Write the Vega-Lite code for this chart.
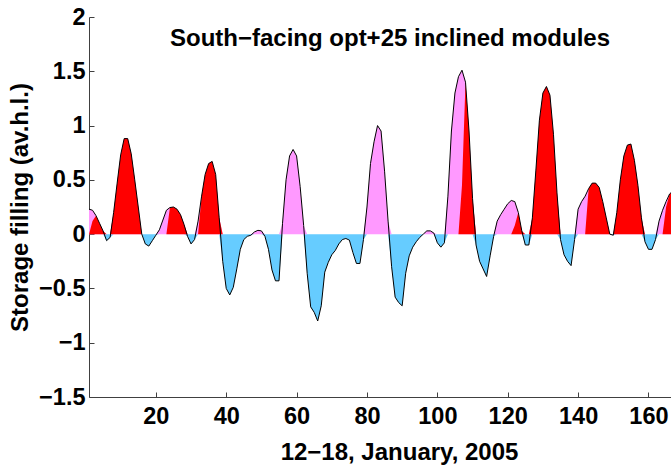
{
  "$schema": "https://vega.github.io/schema/vega-lite/v6.json",
  "width": 582,
  "height": 380,
  "autosize": {"type": "none"},
  "padding": {"left": 89, "top": 17, "right": 0, "bottom": 69},
  "config": {
    "view": {"stroke": null},
    "font": "Liberation Sans",
    "axis": {
      "grid": false,
      "domainColor": "#404040",
      "domainWidth": 1,
      "tickColor": "#404040",
      "tickSize": -5,
      "labelFont": "Liberation Sans",
      "labelFontSize": 23.5,
      "labelFontWeight": "bold",
      "labelColor": "black",
      "titleFont": "Liberation Sans",
      "titleFontSize": 24,
      "titleFontWeight": "bold",
      "titleColor": "black"
    }
  },
  "title": {
    "text": "South−facing opt+25 inclined modules",
    "font": "Liberation Sans",
    "fontSize": 24,
    "fontWeight": "bold",
    "color": "black",
    "anchor": "middle",
    "baseline": "alphabetic",
    "offset": -30,
    "dy": 35,
    "dx": 10
  },
  "data": {
    "values": [
      {"h": 1, "v": 0.23, "r": 0}, {"h": 2, "v": 0.22, "r": 0.12}, {"h": 3, "v": 0.17, "r": 0.17},
      {"h": 4, "v": 0.10, "r": 0.10}, {"h": 5, "v": 0.03, "r": 0.03}, {"h": 6, "v": -0.06, "r": 0},
      {"h": 7, "v": -0.03, "r": 0}, {"h": 8, "v": 0.2, "r": 0.2}, {"h": 9, "v": 0.47, "r": 0.47},
      {"h": 10, "v": 0.73, "r": 0.73}, {"h": 11, "v": 0.88, "r": 0.88}, {"h": 12, "v": 0.88, "r": 0.88},
      {"h": 13, "v": 0.74, "r": 0.74}, {"h": 14, "v": 0.5, "r": 0.5}, {"h": 15, "v": 0.25, "r": 0.25},
      {"h": 16, "v": 0.0, "r": 0}, {"h": 17, "v": -0.09, "r": 0}, {"h": 18, "v": -0.11, "r": 0},
      {"h": 19, "v": -0.06, "r": 0}, {"h": 20, "v": -0.01, "r": 0}, {"h": 21, "v": 0.04, "r": 0},
      {"h": 22, "v": 0.13, "r": 0}, {"h": 23, "v": 0.22, "r": 0}, {"h": 24, "v": 0.245, "r": 0.245},
      {"h": 25, "v": 0.25, "r": 0.25}, {"h": 26, "v": 0.23, "r": 0.23}, {"h": 27, "v": 0.18, "r": 0.18},
      {"h": 28, "v": 0.09, "r": 0.09}, {"h": 29, "v": -0.02, "r": 0}, {"h": 30, "v": -0.09, "r": 0},
      {"h": 31, "v": -0.05, "r": 0}, {"h": 32, "v": 0.12, "r": 0}, {"h": 33, "v": 0.35, "r": 0.35},
      {"h": 34, "v": 0.55, "r": 0.55}, {"h": 35, "v": 0.65, "r": 0.65}, {"h": 36, "v": 0.67, "r": 0.67},
      {"h": 37, "v": 0.55, "r": 0.55}, {"h": 38, "v": 0.15, "r": 0.15}, {"h": 39, "v": -0.25, "r": 0},
      {"h": 40, "v": -0.5, "r": 0}, {"h": 41, "v": -0.56, "r": 0}, {"h": 42, "v": -0.49, "r": 0},
      {"h": 43, "v": -0.32, "r": 0}, {"h": 44, "v": -0.14, "r": 0}, {"h": 45, "v": -0.05, "r": 0},
      {"h": 46, "v": -0.02, "r": 0}, {"h": 47, "v": -0.01, "r": 0}, {"h": 48, "v": 0.02, "r": 0},
      {"h": 49, "v": 0.035, "r": 0}, {"h": 50, "v": 0.03, "r": 0}, {"h": 51, "v": -0.02, "r": 0},
      {"h": 52, "v": -0.14, "r": 0}, {"h": 53, "v": -0.33, "r": 0}, {"h": 54, "v": -0.43, "r": 0},
      {"h": 55, "v": -0.43, "r": 0}, {"h": 56, "v": 0.1, "r": 0}, {"h": 57, "v": 0.5, "r": 0},
      {"h": 58, "v": 0.72, "r": 0}, {"h": 59, "v": 0.78, "r": 0}, {"h": 60, "v": 0.72, "r": 0},
      {"h": 61, "v": 0.44, "r": 0}, {"h": 62, "v": 0.08, "r": 0}, {"h": 63, "v": -0.36, "r": 0},
      {"h": 64, "v": -0.67, "r": 0}, {"h": 65, "v": -0.72, "r": 0}, {"h": 66, "v": -0.8, "r": 0},
      {"h": 67, "v": -0.66, "r": 0}, {"h": 68, "v": -0.35, "r": 0}, {"h": 69, "v": -0.26, "r": 0},
      {"h": 70, "v": -0.19, "r": 0}, {"h": 71, "v": -0.15, "r": 0}, {"h": 72, "v": -0.09, "r": 0},
      {"h": 73, "v": -0.05, "r": 0}, {"h": 74, "v": -0.04, "r": 0}, {"h": 75, "v": -0.055, "r": 0},
      {"h": 76, "v": -0.17, "r": 0}, {"h": 77, "v": -0.27, "r": 0}, {"h": 78, "v": -0.27, "r": 0},
      {"h": 79, "v": -0.05, "r": 0}, {"h": 80, "v": 0.25, "r": 0}, {"h": 81, "v": 0.65, "r": 0},
      {"h": 82, "v": 0.85, "r": 0}, {"h": 83, "v": 1.0, "r": 0}, {"h": 84, "v": 0.95, "r": 0},
      {"h": 85, "v": 0.58, "r": 0}, {"h": 86, "v": 0.12, "r": 0}, {"h": 87, "v": -0.3, "r": 0},
      {"h": 88, "v": -0.58, "r": 0}, {"h": 89, "v": -0.63, "r": 0}, {"h": 90, "v": -0.66, "r": 0},
      {"h": 91, "v": -0.36, "r": 0}, {"h": 92, "v": -0.2, "r": 0}, {"h": 93, "v": -0.12, "r": 0},
      {"h": 94, "v": -0.07, "r": 0}, {"h": 95, "v": -0.03, "r": 0}, {"h": 96, "v": 0.0, "r": 0},
      {"h": 97, "v": 0.03, "r": 0}, {"h": 98, "v": 0.03, "r": 0}, {"h": 99, "v": 0.01, "r": 0},
      {"h": 100, "v": -0.08, "r": 0}, {"h": 101, "v": -0.12, "r": 0}, {"h": 102, "v": -0.08, "r": 0},
      {"h": 103, "v": 0.35, "r": 0}, {"h": 104, "v": 0.95, "r": 0}, {"h": 105, "v": 1.3, "r": 0},
      {"h": 106, "v": 1.45, "r": 0}, {"h": 107, "v": 1.51, "r": 0.45}, {"h": 108, "v": 1.4, "r": 1.4},
      {"h": 109, "v": 0.95, "r": 0.95}, {"h": 110, "v": 0.33, "r": 0.33}, {"h": 111, "v": -0.1, "r": 0},
      {"h": 112, "v": -0.25, "r": 0}, {"h": 113, "v": -0.32, "r": 0}, {"h": 114, "v": -0.39, "r": 0},
      {"h": 115, "v": -0.2, "r": 0}, {"h": 116, "v": -0.02, "r": 0}, {"h": 117, "v": 0.12, "r": 0},
      {"h": 118, "v": 0.18, "r": 0}, {"h": 119, "v": 0.23, "r": 0}, {"h": 120, "v": 0.28, "r": 0},
      {"h": 121, "v": 0.31, "r": 0}, {"h": 122, "v": 0.3, "r": 0.08}, {"h": 123, "v": 0.2, "r": 0.2},
      {"h": 124, "v": 0.03, "r": 0.03}, {"h": 125, "v": -0.1, "r": 0}, {"h": 126, "v": -0.1, "r": 0},
      {"h": 127, "v": 0.15, "r": 0.15}, {"h": 128, "v": 0.59, "r": 0.59}, {"h": 129, "v": 1.05, "r": 1.05},
      {"h": 130, "v": 1.3, "r": 1.3}, {"h": 131, "v": 1.36, "r": 1.36}, {"h": 132, "v": 1.28, "r": 1.28},
      {"h": 133, "v": 0.92, "r": 0.92}, {"h": 134, "v": 0.38, "r": 0.38}, {"h": 135, "v": -0.05, "r": 0},
      {"h": 136, "v": -0.19, "r": 0}, {"h": 137, "v": -0.25, "r": 0}, {"h": 138, "v": -0.29, "r": 0},
      {"h": 139, "v": -0.05, "r": 0}, {"h": 140, "v": 0.23, "r": 0}, {"h": 141, "v": 0.3, "r": 0},
      {"h": 142, "v": 0.35, "r": 0}, {"h": 143, "v": 0.42, "r": 0.42}, {"h": 144, "v": 0.47, "r": 0.47},
      {"h": 145, "v": 0.47, "r": 0.47}, {"h": 146, "v": 0.43, "r": 0.43}, {"h": 147, "v": 0.3, "r": 0.3},
      {"h": 148, "v": 0.15, "r": 0.15}, {"h": 149, "v": 0.0, "r": 0}, {"h": 150, "v": -0.01, "r": 0},
      {"h": 151, "v": 0.2, "r": 0.2}, {"h": 152, "v": 0.5, "r": 0.5}, {"h": 153, "v": 0.72, "r": 0.72},
      {"h": 154, "v": 0.82, "r": 0.82}, {"h": 155, "v": 0.83, "r": 0.83}, {"h": 156, "v": 0.68, "r": 0.68},
      {"h": 157, "v": 0.45, "r": 0.45}, {"h": 158, "v": 0.15, "r": 0.15}, {"h": 159, "v": -0.07, "r": 0},
      {"h": 160, "v": -0.14, "r": 0}, {"h": 161, "v": -0.14, "r": 0}, {"h": 162, "v": -0.05, "r": 0},
      {"h": 163, "v": 0.12, "r": 0}, {"h": 164, "v": 0.22, "r": 0}, {"h": 165, "v": 0.3, "r": 0.25},
      {"h": 166, "v": 0.37, "r": 0.37}, {"h": 167, "v": 0.4, "r": 0.4}, {"h": 168, "v": 0.42, "r": 0.42}
    ]
  },
  "transform": [
    {"calculate": "max(datum.v, 0)", "as": "surplus"},
    {"calculate": "min(datum.v, 0)", "as": "deficit"}
  ],
  "encoding": {
    "x": {
      "field": "h",
      "type": "quantitative",
      "scale": {"domain": [1, 166.4], "nice": false, "zero": false},
      "axis": {
        "title": "12−18, January, 2005",
        "values": [20, 40, 60, 80, 100, 120, 140, 160],
        "labelPadding": 12,
        "titlePadding": 13,
        "titleX": 310
      }
    }
  },
  "layer": [
    {
      "mark": {"type": "area", "color": "#66ccff", "clip": true},
      "encoding": {
        "y": {
          "field": "deficit", "type": "quantitative",
          "scale": {"domain": [-1.5, 2], "nice": false, "zero": false},
          "axis": {"title": "Storage filling (av.h.l.)", "values": [-1.5, -1, -0.5, 0, 0.5, 1, 1.5, 2], "format": "~g", "labelPadding": 9, "titlePadding": 6}
        },
        "y2": {"datum": 0}
      }
    },
    {
      "mark": {"type": "area", "color": "#ff99ff", "clip": true},
      "encoding": {
        "y": {"field": "surplus", "type": "quantitative", "title": "Storage filling (av.h.l.)"},
        "y2": {"datum": 0}
      }
    },
    {
      "mark": {"type": "area", "color": "#ff0000", "clip": true},
      "encoding": {
        "y": {"field": "r", "type": "quantitative", "title": "Storage filling (av.h.l.)"},
        "y2": {"datum": 0}
      }
    },
    {
      "mark": {"type": "line", "color": "black", "strokeWidth": 1, "clip": true},
      "encoding": {
        "y": {"field": "v", "type": "quantitative", "title": "Storage filling (av.h.l.)"}
      }
    },
    {
      "mark": {"type": "rule", "color": "black", "strokeWidth": 2.5},
      "encoding": {"y": {"datum": 0}}
    }
  ]
}
